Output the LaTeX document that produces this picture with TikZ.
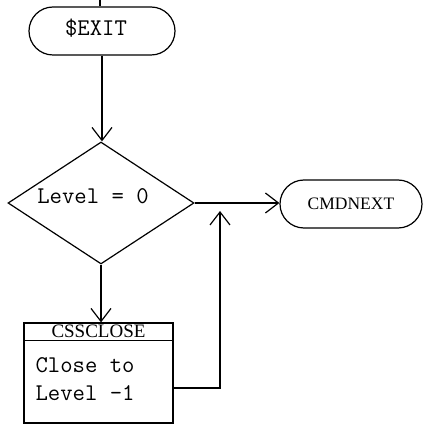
\documentclass[tikz,border=0pt]{standalone}
\usepackage{fontspec}
\newfontfamily\timesfont{Liberation Serif}
\usetikzlibrary{shapes.geometric, arrows.meta}

\begin{document}
\begin{tikzpicture}[x=1pt, y=1pt, line width=1.2pt,
  arr/.style={-{Straight Barb[length=13pt, width=20pt, line width=1.2pt]}},
  term/.style={draw, rounded corners=24pt, minimum height=48pt, inner sep=0pt},
  mono/.style={font=\fontsize{24}{28}\selectfont\ttfamily, inner sep=0pt},
  roman/.style={font=\fontsize{17.5}{20}\selectfont\timesfont, inner sep=0pt}]
  \useasboundingbox (0,0) rectangle (426,426);
  % terminals
  \node[term, minimum width=146pt] (exit) at (102,395) {};
  \node[mono] (exitlabel) at (96,398) {\$EXIT};
  \node[term, roman, minimum width=142pt] (cmd) at (351,222) {CMDNEXT};
  % decision
  \node[draw, diamond, minimum width=186pt, minimum height=122pt, inner sep=0pt] (test) at (101,223) {};
  \node[mono] (testlabel) at (93,230) {Level = 0};
  % process box with header
  \node[draw, minimum width=149pt, minimum height=100pt] (close) at (98.5,53) {};
  \draw ([yshift=-18pt]close.north west) -- ([yshift=-18pt]close.north east);
  \node[roman, font=\fontsize{19}{20}\selectfont\timesfont] (closehead) at ([yshift=-9pt]close.north) {CSSCLOSE};
  \node[mono, align=left, anchor=west] (closebody) at (35,47) {Close to\\Level -1};
  % connectors
  \coordinate (in) at (100,426);
  \coordinate (ret) at (220,215);
  \draw (in) -- (in |- exit.north);
  \draw[arr] (exit.south) -- (exit.south |- test.north);
  \draw[arr] (test.east) -- (test.east -| cmd.west);
  \draw[arr] (test.south) -- (test.south |- close.north);
  \draw[arr] ([yshift=-15pt]close.east) -| (ret);
\end{tikzpicture}
\end{document}
